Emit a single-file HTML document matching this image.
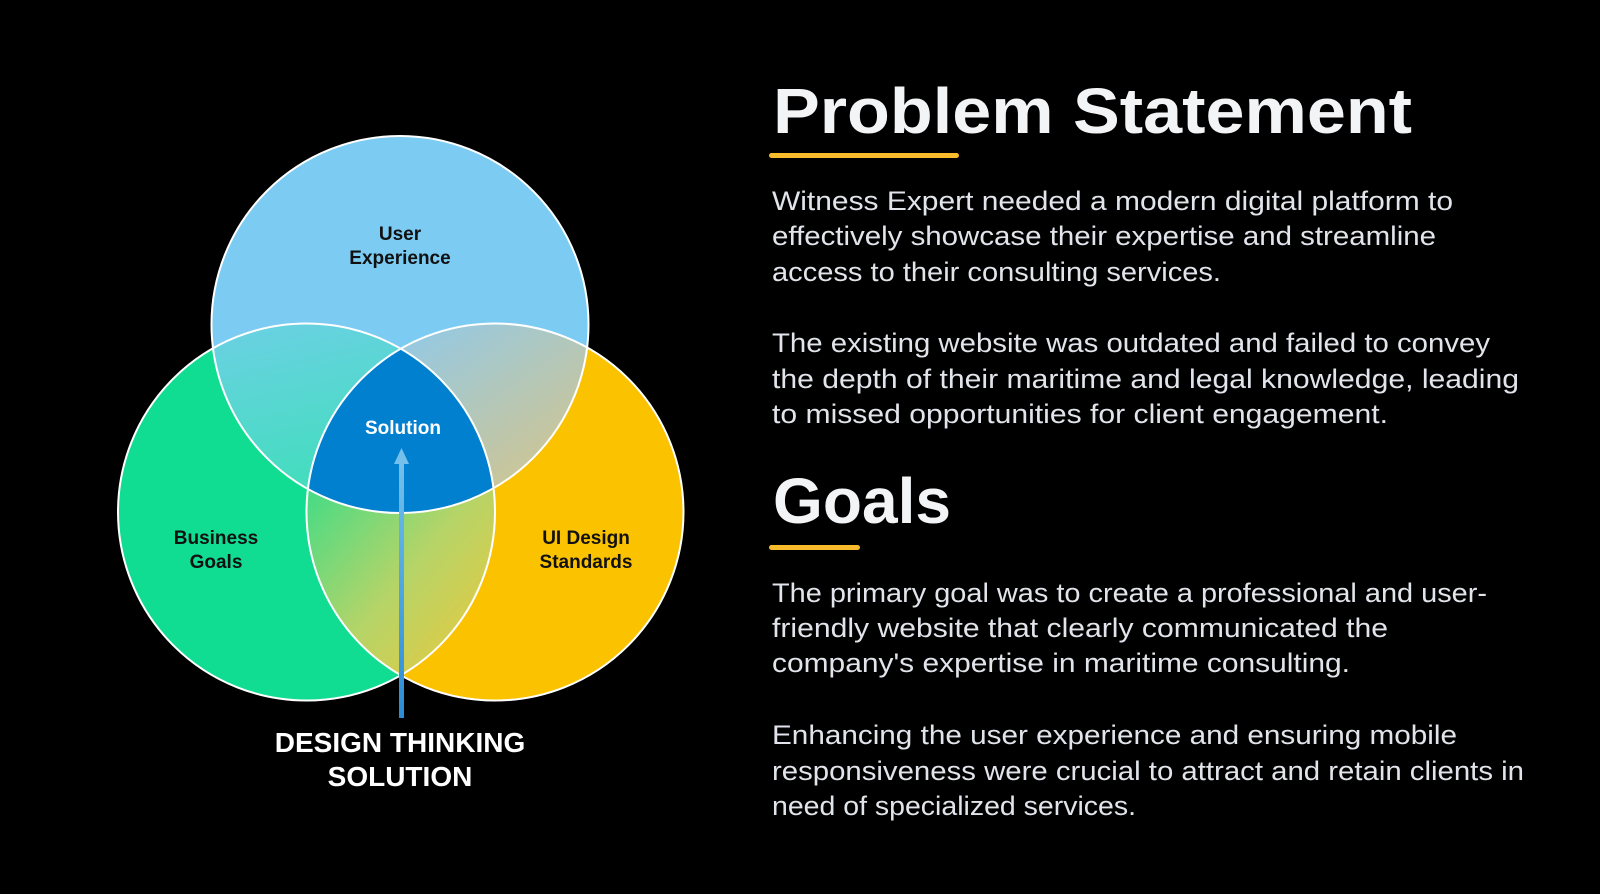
<!DOCTYPE html>
<html><head><meta charset="utf-8"><style>
html,body{margin:0;padding:0;background:#000;width:1600px;height:894px;overflow:hidden}
svg{display:block}
.p{font-family:"Liberation Sans",sans-serif;font-size:27px;fill:#e1e4ea}
.h{font-family:"Liberation Sans",sans-serif;font-weight:bold;font-size:64px;fill:#f3f4f6}
.v{font-family:"Liberation Sans",sans-serif;font-weight:bold;font-size:19px;fill:#111}
</style></head><body>
<svg width="1600" height="894" viewBox="0 0 1600 894">
<defs>
<clipPath id="cT"><circle cx="400" cy="324.5" r="188.5"/></clipPath>
<clipPath id="cL"><circle cx="306.5" cy="512" r="188.5"/></clipPath>
<clipPath id="cR"><circle cx="495" cy="512" r="188.5"/></clipPath>
<linearGradient id="gTL" x1="0" y1="0" x2="0.3" y2="1"><stop offset="0" stop-color="#76cdee"/><stop offset="1" stop-color="#3ddfb8"/></linearGradient>
<linearGradient id="gTR" x1="0" y1="0" x2="1" y2="1"><stop offset="0" stop-color="#8ccaf0"/><stop offset="1" stop-color="#f7c25a"/></linearGradient>
<linearGradient id="gB" x1="0" y1="0" x2="1" y2="1"><stop offset="0" stop-color="#2fdd8c"/><stop offset="0.5" stop-color="#b5d468"/><stop offset="1" stop-color="#f8c631"/></linearGradient>
<linearGradient id="gA" x1="0" y1="1" x2="0" y2="0"><stop offset="0" stop-color="#2a8cd6"/><stop offset="1" stop-color="#74c0ea"/></linearGradient>
</defs>
<circle cx="400" cy="324.5" r="188.5" fill="#7ccbf3"/>
<circle cx="306.5" cy="512" r="188.5" fill="#10dc92"/>
<circle cx="495" cy="512" r="188.5" fill="#fbc200"/>
<g clip-path="url(#cT)"><rect x="100" y="300" width="320" height="240" fill="url(#gTL)" clip-path="url(#cL)"/></g>
<g clip-path="url(#cT)"><rect x="390" y="310" width="320" height="220" fill="url(#gTR)" clip-path="url(#cR)"/></g>
<g clip-path="url(#cL)"><rect x="300" y="460" width="200" height="240" fill="url(#gB)" clip-path="url(#cR)"/></g>
<g clip-path="url(#cT)"><g clip-path="url(#cL)"><rect x="250" y="300" width="300" height="250" fill="#0280d0" clip-path="url(#cR)"/></g></g>
<g fill="none" stroke="#fff" stroke-width="2">
<circle cx="400" cy="324.5" r="188.5"/>
<circle cx="306.5" cy="512" r="188.5"/>
<circle cx="495" cy="512" r="188.5"/>
</g>
<rect x="399" y="462" width="5" height="256" fill="url(#gA)"/>
<polygon points="401.5,448 394,464 409,464" fill="#74c0ea"/>
<text class="v" x="400" y="240" text-anchor="middle">User</text>
<text class="v" x="400" y="264" text-anchor="middle">Experience</text>
<text class="v" x="216" y="544" text-anchor="middle">Business</text>
<text class="v" x="216" y="568" text-anchor="middle">Goals</text>
<text class="v" x="586" y="544" text-anchor="middle">UI Design</text>
<text class="v" x="586" y="568" text-anchor="middle">Standards</text>
<text class="v" x="403" y="434" text-anchor="middle" style="fill:#fff">Solution</text>
<text x="400" y="752" text-anchor="middle" style="font-family:'Liberation Sans',sans-serif;font-weight:bold;font-size:28px;fill:#fff">DESIGN THINKING</text>
<text x="400" y="786" text-anchor="middle" style="font-family:'Liberation Sans',sans-serif;font-weight:bold;font-size:28px;fill:#fff">SOLUTION</text>

<text class="h" x="773" y="133" textLength="639" lengthAdjust="spacingAndGlyphs">Problem Statement</text>
<rect x="769" y="153" width="190" height="5" rx="2.5" fill="#f7bb2c"/>
<text class="p" x="772" y="210" textLength="681" lengthAdjust="spacingAndGlyphs">Witness Expert needed a modern digital platform to</text>
<text class="p" x="772" y="245" textLength="664" lengthAdjust="spacingAndGlyphs">effectively showcase their expertise and streamline</text>
<text class="p" x="772" y="281" textLength="449" lengthAdjust="spacingAndGlyphs">access to their consulting services.</text>
<text class="p" x="772" y="352" textLength="718" lengthAdjust="spacingAndGlyphs">The existing website was outdated and failed to convey</text>
<text class="p" x="772" y="388" textLength="747" lengthAdjust="spacingAndGlyphs">the depth of their maritime and legal knowledge, leading</text>
<text class="p" x="772" y="423" textLength="616" lengthAdjust="spacingAndGlyphs">to missed opportunities for client engagement.</text>

<text class="h" x="773" y="523" textLength="178" lengthAdjust="spacingAndGlyphs">Goals</text>
<rect x="769" y="545" width="91" height="5" rx="2.5" fill="#f7bb2c"/>
<text class="p" x="772" y="602" textLength="715" lengthAdjust="spacingAndGlyphs">The primary goal was to create a professional and user-</text>
<text class="p" x="772" y="637" textLength="616" lengthAdjust="spacingAndGlyphs">friendly website that clearly communicated the</text>
<text class="p" x="772" y="672" textLength="578" lengthAdjust="spacingAndGlyphs">company's expertise in maritime consulting.</text>
<text class="p" x="772" y="744" textLength="685" lengthAdjust="spacingAndGlyphs">Enhancing the user experience and ensuring mobile</text>
<text class="p" x="772" y="780" textLength="752" lengthAdjust="spacingAndGlyphs">responsiveness were crucial to attract and retain clients in</text>
<text class="p" x="772" y="815" textLength="364" lengthAdjust="spacingAndGlyphs">need of specialized services.</text>
</svg>
</body></html>
